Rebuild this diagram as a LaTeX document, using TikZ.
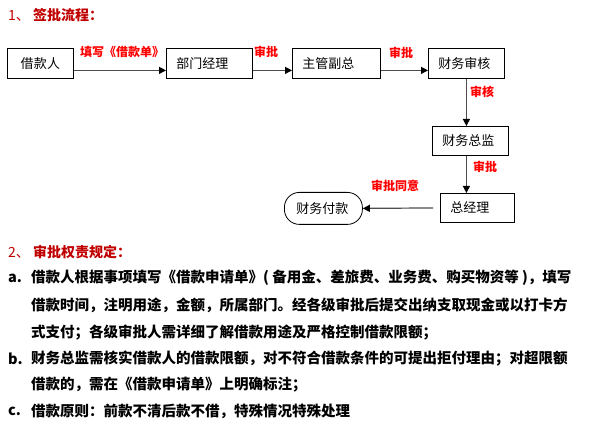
\documentclass[tikz,border=0pt]{standalone}
\usepackage{fontspec}
\setmainfont{Noto Sans CJK SC}
\XeTeXlinebreaklocale "zh"
\XeTeXlinebreakskip=0pt plus 2pt
\usepackage{tikz}
\usetikzlibrary{arrows.meta, positioning, calc}
\definecolor{headred}{HTML}{C00000}
\newcommand{\fullline}{\parfillskip=0pt\relax}

\begin{document}
\begin{tikzpicture}[x=1pt, y=-1pt,
    box/.style={draw, line width=0.8pt, minimum height=30pt, text width=#1, inner xsep=10pt, inner ysep=0pt, align=left, anchor=north west, font=\fontsize{13}{15}\selectfont},
    flow/.style={line width=1.2pt, draw=black!70, -{Triangle[length=7pt, width=7pt, color=black]}},
    note/.style={text=red, inner sep=0pt, font=\bfseries\fontsize{12}{14}\selectfont},
    head/.style={text=headred, anchor=west, inner sep=0pt, font=\fontsize{14}{16}\selectfont},
    bodytext/.style={anchor=west, inner sep=0pt, font=\bfseries\fontsize{14.5}{16}\selectfont},
    fullrow/.style={bodytext, text width=555pt, align=justify}]
  \useasboundingbox (0,0) rectangle (593,427);

  % Headings
  \node[head] (h1) at (8,15) {1、 {\bfseries 签批流程：}};
  \node[head] (h2) at (8,252) {2、 {\bfseries 审批权责规定：}};

  % Flow boxes
  \node[box=46pt, align=center] (jkr) at (7,48) {借款人};
  \node[box=66pt] (bmjl) at (166,48) {部门经理};
  \node[box=68pt] (zgfz) at (292,48) {主管副总};
  \node[box=56pt] (cwsh) at (428,48) {财务审核};
  \node[box=56pt, minimum height=29pt] (cwzj) at (432,126) {财务总监};
  \node[box=54pt, minimum height=29pt] (zjl) at (440,193) {总经理};
  \node[box=54pt, inner xsep=12pt, minimum height=32pt, rounded corners=15pt] (cwfk) at (284,192) {财务付款};

  % Connectors
  \draw[flow] ([yshift=-7pt]jkr.east) -- ([yshift=-7pt]bmjl.west);
  \draw[flow] ([yshift=-7pt]bmjl.east) -- ([yshift=-7pt]zgfz.west);
  \draw[flow] ([yshift=-7pt]zgfz.east) -- ([yshift=-7pt]cwsh.west);
  \draw[flow] (cwsh.south) -- (cwsh.south |- cwzj.north);
  \draw[flow] (cwsh.south |- cwzj.south) -- (cwsh.south |- zjl.north);
  \draw[flow, shorten <=7pt] (zjl.west) -- (cwfk.east);

  % Connector labels
  \node[note] (n1) at (122,52) {填写《借款单》};
  \node[note] (n2) at (266,52) {审批};
  \node[note] (n3) at (401,53) {审批};
  \node[note] (n4) at (482,92) {审核};
  \node[note] (n5) at (485,167) {审批};
  \node[note] (n6) at (395,186) {审批同意};

  % Rules
  \node[bodytext] (ma) at (8,278) {a.};
  \node[fullrow] (a1) at (31,278) {\fullline 借款人根据事项填写《借款申请单》(~备用金、差旅费、业务费、购买物资等~)，填写};
  \node[fullrow] (a2) at (31,305) {\fullline 借款时间，注明用途，金额，所属部门。经各级审批后提交出纳支取现金或以打卡方};
  \node[bodytext] (a3) at (31,333) {式支付；各级审批人需详细了解借款用途及严格控制借款限额；};
  \node[bodytext] (mb) at (8,359) {b.};
  \node[fullrow] (b1) at (31,359) {\fullline 财务总监需核实借款人的借款限额，对不符合借款条件的可提出拒付理由；对超限额};
  \node[bodytext] (b2) at (31,385) {借款的，需在《借款申请单》上明确标注；};
  \node[bodytext] (mc) at (8,411) {c.};
  \node[bodytext] (c1) at (31,411) {借款原则：前款不清后款不借，特殊情况特殊处理};
\end{tikzpicture}
\end{document}
